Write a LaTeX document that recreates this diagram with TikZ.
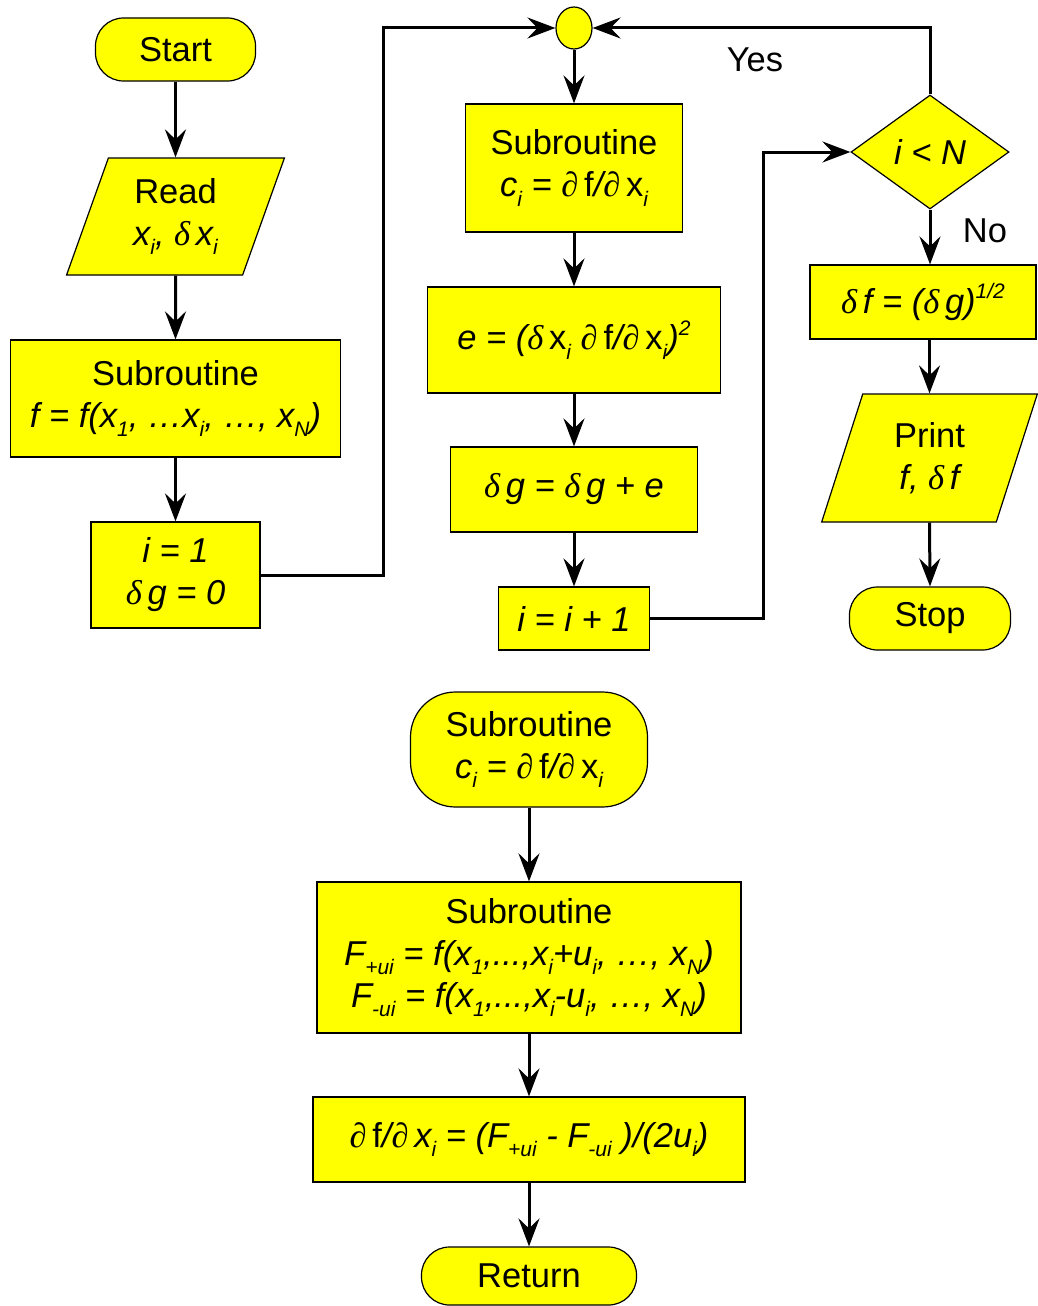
\documentclass[tikz,border=0pt]{standalone}
\usepackage{fontspec}
\setmainfont{Liberation Sans}
\newfontfamily\symfont{Liberation Serif}
\usetikzlibrary{shapes.geometric,arrows.meta,calc}
\definecolor{yel}{RGB}{255,255,0}
\newcommand\dlt{{\symfont δ}}
\newcommand\prt{{\symfont ∂}}
\newcommand\lo[1]{\raisebox{-0.28em}{\fontsize{21}{21}\selectfont #1}}
\newcommand\hi[1]{\raisebox{0.42em}{\fontsize{21}{21}\selectfont #1}}
\begin{document}
\begin{tikzpicture}[x=1pt,y=-1pt,
  box/.style={draw=black, line width=1.2pt, fill=yel, inner sep=0pt, align=center,
              font=\fontsize{34.5}{42}\selectfont},
  term/.style={box, rounded corners=28pt},
  io/.style={box, trapezium, trapezium stretches=true},
  dec/.style={box, diamond},
  lbl/.style={font=\fontsize{34.5}{42}\selectfont, inner sep=0pt},
  conn/.style={line width=3pt, -{Stealth[length=28pt,width=21pt,inset=10pt]}},
  line/.style={line width=3pt}]
\useasboundingbox (0,0) rectangle (1037,1306);

% left column
\node[term, minimum width=160pt, minimum height=63pt] (start) at (175.5,49.5) {Start};
\node[io, minimum width=218pt, minimum height=117pt, trapezium left angle=71, trapezium right angle=109] (read) at (175.5,216.5)
  {Read\\{\itshape x\lo{i}, \dlt\,x\lo{i}}};
\node[box, minimum width=330pt, minimum height=117pt] (subf) at (175.5,398.5)
  {Subroutine\\{\itshape f = f(x\lo{1}, …x\lo{i}, …, x\lo{N})}};
\node[box, minimum width=169pt, minimum height=106pt] (i1) at (175.5,575)
  {{\itshape i = 1}\\{\itshape \dlt\,g = 0}};

% middle column
\node[box, ellipse, minimum width=36pt, minimum height=42pt] (circ) at (574,28) {};
\node[box, minimum width=217pt, minimum height=128pt] (ci) at (574,168)
  {Subroutine\\{\itshape c\lo{i} = \prt\,{\upshape f}/\prt\,{\upshape x}\lo{i}}};
\node[box, minimum width=293pt, minimum height=106pt] (e) at (574,340)
  {{\itshape e = (\dlt\,{\upshape x}\lo{i} \prt\,{\upshape f}/\prt\,{\upshape x}\lo{i})\hi{2}}};
\node[box, minimum width=247pt, minimum height=85pt] (dg) at (574,489.5)
  {{\itshape \dlt\,g = \dlt\,g + e}};
\node[box, minimum width=151pt, minimum height=63pt] (inc) at (574,618.5)
  {{\itshape i = i + 1}};

% right column
\node[dec, minimum width=158pt, minimum height=114pt] (dia) at (930,152) {{\itshape i < N}};
\node[box, minimum width=226pt, minimum height=74pt] (df) at (923,302)
  {{\itshape \dlt\,f = (\dlt\,g)\hi{1/2}}};
\node[io, minimum width=216pt, minimum height=128pt, trapezium left angle=73, trapezium right angle=107] (print) at (929.5,458)
  {Print\\{\itshape f, \dlt\,f}};
\node[term, minimum width=161pt, minimum height=63pt] (stop) at (930,618.5) {Stop};

\node[lbl] (yes) at (755,60) {Yes};
\node[lbl] (no) at (985,231) {No};

% bottom column
\node[box, rounded corners=45pt, minimum width=237pt, minimum height=115pt] (sub2) at (529,749.5)
  {Subroutine\\{\itshape c\lo{i} = \prt\,{\upshape f}/\prt\,{\upshape x}\lo{i}}};
\node[box, minimum width=424pt, minimum height=151pt] (Fb) at (529,957.5)
  {Subroutine\\{\itshape F\lo{+ui} = f(x\lo{1},...,x\lo{i}+u\lo{i}, …, x\lo{N})}\\{\itshape F\lo{-ui} = f(x\lo{1},...,x\lo{i}-u\lo{i}, …, x\lo{N})}};
\node[box, minimum width=432pt, minimum height=85pt] (pd) at (529,1139.5)
  {{\itshape \prt\,{\upshape f}/\prt\,x\lo{i} = (F\lo{+ui} - F\lo{-ui} )/(2u\lo{i})}};
\node[term, minimum width=215pt, minimum height=58pt] (ret) at (529,1276) {Return};

\coordinate (lx) at (383,0);
\coordinate (rx) at (763,0);

% connectors
\draw[conn] (start) -- (read);
\draw[conn] (read) -- (subf);
\draw[conn] (subf) -- (i1);
\draw[conn] (i1.east) -- (i1.east -| lx) |- (circ.west);
\draw[conn] (circ) -- (ci);
\draw[conn] (ci) -- (e);
\draw[conn] (e) -- (dg);
\draw[conn] (dg) -- (inc);
\draw[conn] (inc.east) -- (inc.east -| rx) |- (dia.west);
\draw[conn] (dia.north) |- (circ.east);
\draw[conn] (dia.south) -- (dia.south |- df.north);
\draw[conn] (df.south -| print.north) -- (print.north);
\draw[conn] (print.south) -- (stop.north);
\draw[conn] (sub2) -- (Fb);
\draw[conn] (Fb) -- (pd);
\draw[conn] (pd) -- (ret);
\end{tikzpicture}
\end{document}
